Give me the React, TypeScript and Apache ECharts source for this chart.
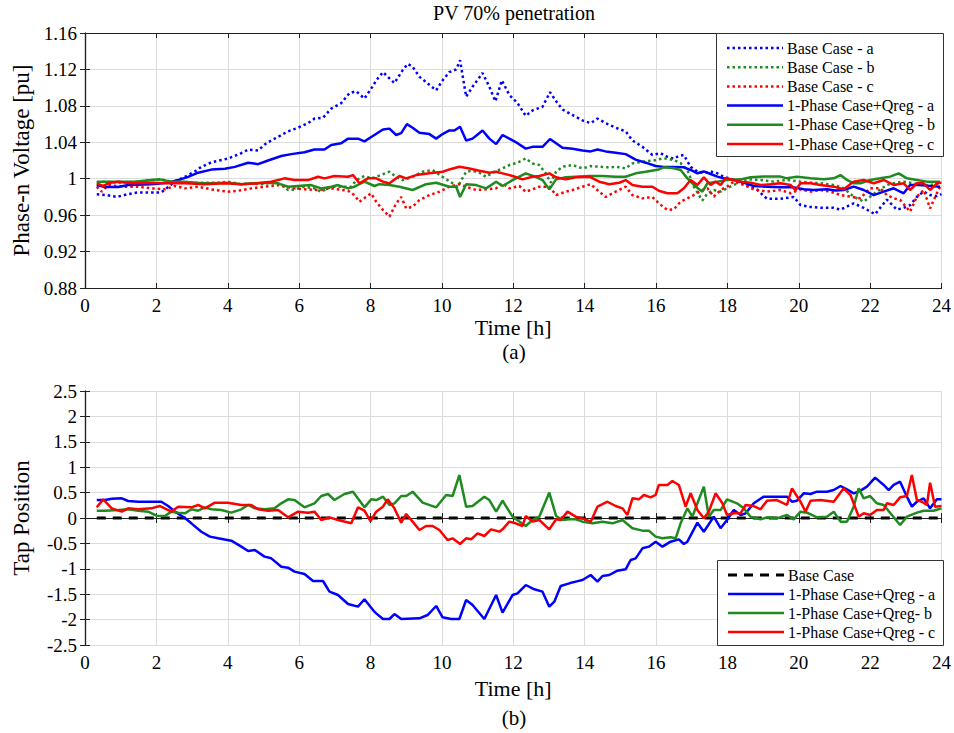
import React, { useEffect, useRef } from "react";
import * as echarts from "echarts";

const FONT = "Liberation Serif, Times New Roman, serif";
const BLUE = "#0000ff";
const GREEN = "#1f8a1f";
const RED = "#ff0000";

// ---------- Top plot: phase-n voltage [pu] vs time [h] ----------
const baseCaseA: number[][] = [[0.33,0.983],[0.6,0.982],[0.89,0.980],[1.2,0.983],[1.49,0.985],[2.14,0.985],[2.33,0.991],[2.52,0.997],[2.8,1.002],[3.08,1.008],[3.26,1.013],[3.54,1.018],[4.0,1.022],[4.38,1.028],[4.57,1.032],[4.85,1.031],[5.08,1.039],[5.41,1.046],[5.69,1.052],[5.97,1.056],[6.25,1.061],[6.43,1.066],[6.67,1.067],[6.9,1.077],[7.18,1.083],[7.41,1.094],[7.6,1.096],[7.83,1.088],[8.07,1.102],[8.16,1.108],[8.35,1.117],[8.67,1.105],[8.9,1.119],[9.04,1.126],[9.18,1.123],[9.37,1.112],[9.84,1.097],[10.02,1.108],[10.21,1.117],[10.4,1.120],[10.51,1.130],[10.68,1.090],[10.86,1.101],[11.14,1.116],[11.33,1.101],[11.5,1.085],[11.68,1.108],[11.89,1.092],[12.12,1.083],[12.35,1.069],[12.54,1.075],[12.82,1.079],[13.03,1.095],[13.24,1.083],[13.38,1.076],[13.66,1.070],[13.94,1.064],[14.17,1.061],[14.36,1.066],[14.59,1.061],[14.87,1.056],[15.15,1.052],[15.34,1.042],[15.62,1.035],[15.9,1.026],[16.13,1.028],[16.32,1.024],[16.5,1.022],[16.64,1.025],[16.78,1.026],[16.97,1.013],[17.16,1.008],[17.34,1.006],[17.53,1.008],[17.72,1.006],[17.9,1.002],[18.18,0.999],[18.55,0.993],[18.83,0.988],[19.11,0.978],[19.49,0.978],[19.86,0.980],[20.05,0.971],[20.33,0.969],[20.61,0.968],[20.98,0.968],[21.17,0.966],[21.54,0.973],[21.82,0.968],[22.14,0.961],[22.28,0.968],[22.47,0.977],[22.75,0.966],[22.94,0.968],[23.12,0.971],[23.31,0.980],[23.5,0.986],[23.68,0.982],[23.87,0.981],[24,0.983]];

const baseCaseB: number[][] = [[0.33,0.9956],[0.56,0.9967],[0.93,0.9956],[1.4,0.9967],[1.86,0.9985],[2.14,0.9993],[2.42,0.9967],[2.8,0.9956],[3.26,0.9956],[3.73,0.9956],[4.0,0.9967],[4.38,0.994],[4.66,0.9949],[4.94,0.994],[5.22,0.9956],[5.5,0.994],[5.69,0.9876],[5.87,0.9883],[6.15,0.9912],[6.43,0.9894],[6.62,0.9857],[6.9,0.9912],[7.18,0.9912],[7.46,0.9912],[7.6,0.9985],[7.83,1.003],[8.02,1.0004],[8.16,1.002],[8.53,1.0077],[8.72,1.002],[8.9,0.9985],[9.18,1.002],[9.46,1.0077],[9.74,1.0095],[10.02,1.002],[10.3,0.995],[10.44,0.991],[10.68,1.0077],[10.86,1.0088],[11.05,1.0066],[11.24,1.002],[11.47,1.0077],[11.7,1.0113],[11.89,1.015],[12.12,1.0176],[12.35,1.0223],[12.54,1.0168],[12.73,1.015],[12.91,1.0059],[13.05,0.9956],[13.2,1.0077],[13.38,1.0132],[13.66,1.015],[13.94,1.0113],[14.17,1.0139],[14.41,1.0132],[14.69,1.0124],[14.87,1.0132],[15.15,1.0113],[15.34,1.0168],[15.62,1.0187],[15.9,1.0198],[16.22,1.0224],[16.5,1.0206],[16.69,1.017],[16.88,1.0096],[17.06,0.9913],[17.3,0.976],[17.44,0.984],[17.62,0.9876],[17.81,0.9858],[17.99,0.9895],[18.18,0.9931],[18.37,0.9968],[18.65,0.9993],[18.93,0.9986],[19.3,0.9968],[19.67,0.9986],[20.05,0.9968],[20.33,0.9957],[20.61,0.995],[20.98,0.9931],[21.26,0.9895],[21.54,0.9803],[21.82,0.9748],[22.0,0.9803],[22.19,0.9858],[22.47,0.9931],[22.66,0.995],[22.94,0.9968],[23.22,0.995],[23.4,0.9931],[23.68,0.9931],[23.96,0.995]];

const baseCaseC: number[][] = [[0.33,0.9912],[0.47,0.9857],[0.65,0.993],[1.12,0.9912],[1.49,0.9912],[1.86,0.9894],[2.24,0.9883],[2.52,0.992],[2.8,0.9894],[3.17,0.9912],[3.54,0.9883],[4.0,0.9857],[4.29,0.9868],[4.66,0.9894],[5.03,0.9912],[5.41,0.993],[5.59,0.9912],[5.87,0.9894],[6.15,0.9883],[6.53,0.9876],[6.9,0.9894],[7.37,0.9868],[7.55,0.982],[7.69,0.9747],[7.88,0.9802],[8.02,0.9839],[8.16,0.9747],[8.35,0.9656],[8.53,0.9583],[8.72,0.9729],[8.86,0.980],[9.0,0.9674],[9.18,0.9693],[9.37,0.9766],[9.65,0.982],[9.93,0.9857],[10.21,0.9912],[10.49,0.994],[10.68,0.9912],[10.96,0.9876],[11.24,0.9883],[11.52,0.9894],[11.7,0.9949],[11.89,0.9894],[12.17,0.992],[12.35,0.9857],[12.54,0.9883],[12.73,0.9912],[13.01,0.9912],[13.2,0.982],[13.47,0.9857],[13.66,0.9876],[13.94,0.9912],[14.17,0.994],[14.41,0.9857],[14.59,0.980],[14.87,0.9857],[15.15,0.9912],[15.34,0.982],[15.62,0.9784],[15.9,0.980],[16.08,0.9729],[16.2,0.9693],[16.32,0.9657],[16.5,0.9664],[16.69,0.9748],[16.88,0.9785],[17.06,0.9821],[17.3,0.9876],[17.44,0.9895],[17.62,0.9803],[17.81,0.9876],[17.99,0.9913],[18.18,0.9968],[18.46,0.9931],[18.74,0.9884],[19.11,0.9858],[19.49,0.9876],[19.77,0.984],[20.05,0.9884],[20.33,0.9858],[20.61,0.9876],[20.89,0.9858],[21.17,0.9821],[21.45,0.9803],[21.73,0.9785],[22.0,0.9895],[22.28,0.9895],[22.47,0.9821],[22.66,0.9785],[22.84,0.9767],[23.12,0.9638],[23.31,0.9803],[23.5,0.9876],[23.68,0.9674],[23.87,0.984],[23.96,0.9913]];

const qregA: number[][] = [[0.33,0.993],[0.56,0.991],[0.93,0.991],[1.21,0.993],[1.86,0.994],[2.33,0.9955],[2.61,0.9985],[2.89,1.002],[3.17,1.0066],[3.54,1.010],[3.92,1.011],[4.2,1.013],[4.57,1.0176],[4.85,1.016],[5.13,1.020],[5.5,1.025],[5.78,1.027],[6.15,1.029],[6.43,1.032],[6.71,1.032],[6.9,1.037],[7.18,1.039],[7.37,1.044],[7.65,1.044],[7.83,1.041],[8.11,1.048],[8.35,1.054],[8.53,1.055],[8.72,1.048],[8.86,1.050],[9.02,1.060],[9.18,1.056],[9.37,1.0505],[9.65,1.049],[9.84,1.044],[10.02,1.049],[10.21,1.053],[10.35,1.053],[10.51,1.057],[10.68,1.042],[10.86,1.044],[11.14,1.053],[11.33,1.044],[11.52,1.038],[11.7,1.048],[11.89,1.044],[12.12,1.039],[12.35,1.033],[12.54,1.035],[12.82,1.035],[13.03,1.0436],[13.2,1.039],[13.38,1.034],[13.66,1.033],[13.94,1.031],[14.17,1.030],[14.36,1.032],[14.59,1.030],[14.87,1.0285],[15.15,1.027],[15.43,1.021],[15.71,1.0176],[15.99,1.014],[16.22,1.013],[16.5,1.013],[16.78,1.0125],[16.97,1.0096],[17.16,1.006],[17.34,1.008],[17.53,1.0052],[17.72,1.0023],[17.9,1.0004],[18.18,0.9986],[18.37,0.9968],[18.74,0.992],[19.11,0.9913],[19.49,0.9905],[19.86,0.9905],[20.14,0.9884],[20.42,0.9876],[20.79,0.9884],[21.03,0.987],[21.26,0.9876],[21.54,0.9913],[21.82,0.9876],[22.1,0.982],[22.38,0.9858],[22.66,0.9895],[22.94,0.984],[23.12,0.9931],[23.4,0.9931],[23.68,0.992],[23.96,0.9913]];

const qregB: number[][] = [[0.33,0.9967],[0.75,0.9967],[1.4,0.9967],[1.86,0.9985],[2.1,0.9993],[2.42,0.9967],[2.8,0.9967],[3.26,0.9949],[3.54,0.9949],[4.0,0.9956],[4.38,0.994],[4.66,0.9949],[5.03,0.9956],[5.41,0.9949],[5.69,0.9912],[5.97,0.992],[6.34,0.993],[6.62,0.9894],[6.9,0.9912],[7.09,0.993],[7.37,0.9894],[7.55,0.9912],[7.83,0.9967],[8.11,0.992],[8.25,0.994],[8.53,0.993],[8.81,0.9912],[9.18,0.9876],[9.56,0.994],[9.84,0.9956],[10.21,0.9912],[10.4,0.9912],[10.51,0.980],[10.68,0.994],[10.96,0.993],[11.24,0.9894],[11.52,0.9967],[11.7,0.992],[11.98,0.9985],[12.35,1.0059],[12.63,1.002],[12.82,0.9985],[13.01,0.9883],[13.2,0.9993],[13.47,1.0015],[13.75,1.0022],[14.13,1.003],[14.5,1.003],[14.87,1.0022],[15.15,1.0022],[15.43,1.0059],[15.71,1.0077],[16.08,1.0102],[16.22,1.0125],[16.5,1.0114],[16.69,1.0096],[16.88,1.0004],[17.06,0.9931],[17.3,0.9858],[17.44,0.995],[17.72,0.9968],[17.99,0.9986],[18.37,0.9993],[18.65,1.0015],[19.02,1.0023],[19.49,1.0023],[19.67,1.0004],[19.95,1.0023],[20.33,1.0004],[20.7,0.9993],[20.98,1.0004],[21.17,1.004],[21.35,0.9986],[21.54,0.995],[21.73,0.995],[22.0,0.9986],[22.28,1.0004],[22.56,1.0023],[22.8,1.0059],[23.03,1.0004],[23.31,0.9986],[23.59,0.9968],[23.96,0.9968]];

const qregC: number[][] = [[0.33,0.9949],[0.51,0.992],[0.7,0.9956],[0.93,0.9967],[1.31,0.9949],[1.86,0.9956],[2.33,0.9949],[2.8,0.9949],[3.36,0.994],[3.92,0.9949],[4.38,0.994],[4.85,0.9949],[5.22,0.9967],[5.59,1.0004],[5.87,0.9985],[6.25,0.9985],[6.53,1.0022],[6.71,1.0004],[6.99,1.003],[7.37,1.0022],[7.51,1.004],[7.69,0.9949],[7.93,1.0004],[8.16,1.0004],[8.35,0.9967],[8.53,0.9949],[8.81,1.003],[9.0,1.0004],[9.28,1.004],[9.65,1.0059],[10.02,1.0077],[10.21,1.0102],[10.49,1.0132],[10.77,1.0113],[11.05,1.0088],[11.33,1.0066],[11.52,1.0077],[11.7,1.0059],[11.98,1.003],[12.26,0.9993],[12.54,1.0022],[12.73,1.003],[13.01,1.0059],[13.2,1.0015],[13.47,0.9993],[13.75,1.0015],[14.13,1.0022],[14.41,0.9967],[14.69,0.994],[14.97,0.9956],[15.15,0.9985],[15.34,0.993],[15.62,0.9912],[15.9,0.9912],[16.08,0.9868],[16.32,0.984],[16.6,0.984],[16.78,0.9895],[16.97,0.9986],[17.16,0.9931],[17.34,1.0015],[17.53,0.9931],[17.67,0.9968],[17.81,0.9931],[17.95,1.0004],[18.18,0.9986],[18.37,0.9968],[18.65,0.9957],[18.93,0.9931],[19.21,0.9938],[19.49,0.995],[19.77,0.9931],[19.91,0.9876],[20.05,0.995],[20.33,0.995],[20.61,0.9931],[20.98,0.9913],[21.26,0.9884],[21.54,0.9968],[21.82,0.9986],[22.1,0.995],[22.38,0.9986],[22.66,0.9931],[22.94,0.995],[23.12,0.9876],[23.31,0.995],[23.5,0.995],[23.68,0.9876],[23.87,0.995],[24.0,0.9957]];

// ---------- Bottom plot: tap position vs time [h] ----------
const tapBase: number[][] = [[0.33,0],[24,0]];

const tapA: number[][] = [[0.33,0.354],[0.56,0.354],[0.75,0.38],[1.03,0.387],[1.21,0.335],[1.49,0.32],[1.77,0.32],[2.14,0.32],[2.33,0.236],[2.52,0.125],[2.8,0],[2.98,-0.105],[3.26,-0.27],[3.5,-0.367],[3.73,-0.4],[4.1,-0.446],[4.38,-0.564],[4.57,-0.65],[4.76,-0.63],[5.03,-0.76],[5.22,-0.794],[5.5,-0.958],[5.69,-0.978],[5.87,-1.056],[6.15,-1.102],[6.39,-1.24],[6.67,-1.24],[6.85,-1.45],[7.09,-1.516],[7.37,-1.693],[7.65,-1.745],[7.83,-1.6],[8.11,-1.844],[8.16,-1.877],[8.35,-1.988],[8.53,-1.988],[8.67,-1.89],[8.86,-1.988],[9.37,-1.975],[9.6,-1.91],[9.84,-1.732],[10.02,-1.955],[10.26,-1.988],[10.49,-1.988],[10.68,-1.614],[10.86,-1.713],[11.19,-1.988],[11.52,-1.516],[11.7,-1.864],[11.98,-1.516],[12.12,-1.483],[12.35,-1.319],[12.59,-1.404],[12.82,-1.45],[13.01,-1.745],[13.15,-1.647],[13.33,-1.339],[13.57,-1.286],[13.75,-1.253],[13.94,-1.22],[14.17,-1.122],[14.36,-1.253],[14.5,-1.142],[14.69,-1.122],[14.92,-1.037],[15.15,-1.01],[15.29,-0.827],[15.43,-0.794],[15.62,-0.597],[15.8,-0.564],[15.99,-0.466],[16.18,-0.564],[16.41,-0.466],[16.64,-0.42],[16.78,-0.512],[16.88,-0.466],[17.16,-0.092],[17.34,-0.27],[17.62,0.026],[17.81,-0.2],[17.99,-0.04],[18.18,0.157],[18.37,0.059],[18.51,0.092],[18.74,0.289],[19.02,0.42],[19.3,0.42],[19.67,0.42],[19.81,0.32],[19.95,0.341],[20.14,0.486],[20.33,0.472],[20.51,0.518],[20.79,0.518],[20.98,0.551],[21.17,0.63],[21.35,0.564],[21.54,0.486],[21.73,0.538],[21.91,0.617],[22.14,0.794],[22.38,0.65],[22.52,0.551],[22.66,0.65],[22.84,0.715],[23.03,0.42],[23.17,0.223],[23.31,0.32],[23.5,0.387],[23.68,0.19],[23.87,0.367],[24,0.367]];

const tapB: number[][] = [[0.33,0.144],[0.56,0.144],[0.93,0.157],[1.21,0.171],[1.49,0.144],[1.77,0.125],[2.0,0.046],[2.24,0.039],[2.42,0.125],[2.61,0.105],[2.8,0.092],[2.98,0.171],[3.17,0.144],[3.36,0.21],[3.54,0.171],[3.82,0.157],[4.1,0.105],[4.38,0.171],[4.57,0.256],[4.76,0.19],[5.03,0.171],[5.31,0.19],[5.5,0.289],[5.69,0.367],[5.87,0.354],[6.15,0.21],[6.43,0.289],[6.62,0.433],[6.81,0.472],[6.99,0.354],[7.27,0.472],[7.51,0.518],[7.83,0.21],[8.02,0.367],[8.16,0.354],[8.35,0.42],[8.53,0.256],[8.67,0.289],[8.86,0.433],[9.0,0.433],[9.18,0.518],[9.46,0.302],[9.84,0.21],[10.12,0.453],[10.3,0.433],[10.49,0.846],[10.68,0.223],[10.86,0.236],[11.19,0.42],[11.33,0.354],[11.52,0.125],[11.7,0.341],[11.98,0.026],[12.35,-0.157],[12.54,-0.039],[12.73,0.026],[13.01,0.5],[13.2,0.039],[13.38,-0.039],[13.57,-0.026],[13.75,-0.026],[13.94,-0.072],[14.22,-0.105],[14.5,-0.072],[14.78,-0.105],[15.06,-0.039],[15.34,-0.203],[15.62,-0.249],[15.8,-0.249],[15.99,-0.367],[16.18,-0.4],[16.41,-0.38],[16.55,-0.4],[16.69,-0.105],[16.88,0.19],[17.02,0.026],[17.16,0.289],[17.34,0.617],[17.48,0.026],[17.62,0.157],[17.81,0.157],[17.99,0.367],[18.27,0.289],[18.46,0.19],[18.65,0.026],[18.93,-0.026],[19.11,0.013],[19.39,-0.007],[19.67,0.059],[19.86,-0.026],[20.05,0.125],[20.23,0.105],[20.51,0.013],[20.79,0.026],[20.98,0.125],[21.17,-0.072],[21.35,-0.072],[21.54,0.223],[21.68,0.584],[21.82,0.387],[22.0,0.433],[22.19,0.289],[22.38,0.256],[22.61,0.059],[22.84,-0.138],[23.03,0.026],[23.31,0.105],[23.5,0.144],[23.78,0.144],[24.0,0.19]];

const tapC: number[][] = [[0.33,0.21],[0.51,0.367],[0.75,0.19],[1.03,0.125],[1.21,0.19],[1.49,0.171],[1.86,0.19],[2.1,0.236],[2.42,0.125],[2.61,0.223],[2.98,0.21],[3.17,0.256],[3.36,0.19],[3.64,0.302],[4.0,0.302],[4.38,0.256],[4.66,0.256],[4.85,0.171],[5.13,0.144],[5.41,0.157],[5.69,0.013],[5.97,0.125],[6.25,0.105],[6.43,0.125],[6.62,-0.039],[6.85,0.013],[7.09,-0.039],[7.46,-0.105],[7.65,0.21],[7.83,0.144],[8.0,-0.06],[8.16,0.125],[8.35,0.223],[8.48,0.367],[8.67,0.19],[8.86,-0.092],[9.0,0.079],[9.18,-0.072],[9.37,-0.236],[9.56,-0.157],[9.74,-0.157],[9.93,-0.236],[10.16,-0.433],[10.3,-0.4],[10.51,-0.512],[10.68,-0.4],[10.82,-0.42],[11.0,-0.302],[11.19,-0.354],[11.38,-0.223],[11.61,-0.269],[11.7,-0.223],[11.89,-0.072],[12.07,-0.105],[12.26,-0.157],[12.35,0.039],[12.54,-0.072],[12.73,-0.039],[13.01,-0.223],[13.2,-0.026],[13.33,-0.039],[13.52,0.125],[13.75,0.026],[13.94,-0.007],[14.17,-0.072],[14.36,0.223],[14.64,0.32],[14.87,0.236],[15.06,0.19],[15.2,0.059],[15.34,0.387],[15.52,0.367],[15.66,0.453],[15.85,0.407],[15.99,0.453],[16.08,0.65],[16.32,0.65],[16.46,0.728],[16.64,0.65],[16.83,0.223],[16.97,0.486],[17.16,0.157],[17.34,-0.007],[17.48,0.125],[17.67,0.486],[17.86,0.289],[17.99,0.059],[18.18,0.092],[18.37,0.092],[18.51,0.256],[18.74,0.236],[18.93,0.171],[19.11,0.341],[19.39,0.354],[19.67,0.256],[19.81,0.584],[20.05,0.32],[20.19,0.125],[20.33,0.341],[20.61,0.354],[20.98,0.32],[21.26,0.584],[21.45,0.453],[21.68,0.026],[21.82,0.092],[22.0,0.059],[22.19,0.157],[22.38,0.157],[22.47,0.289],[22.66,0.256],[22.84,0.407],[23.03,0.433],[23.17,0.846],[23.31,0.354],[23.45,0.32],[23.59,0.256],[23.68,0.696],[23.82,0.223],[24.0,0.236]];

const topNames = ["Base Case - a", "Base Case - b", "Base Case - c", "1-Phase Case+Qreg - a", "1-Phase Case+Qreg - b", "1-Phase Case+Qreg - c"];
const bottomNames = ["Base Case", "1-Phase Case+Qreg - a", "1-Phase Case+Qreg- b", "1-Phase Case+Qreg - c"];

const timeRange = { min: 0, max: 24, interval: 2 };
const voltRange = { min: 0.88, max: 1.16, interval: 0.04 };
const tapRange = { min: -2.5, max: 2.5, interval: 0.5 };

const DOT = [2.5, 3];
const DASH = [9, 7];
const topStyles = [
  { color: BLUE, dash: DOT, width: 2.5 }, { color: GREEN, dash: DOT, width: 2.5 }, { color: RED, dash: DOT, width: 2.5 },
  { color: BLUE, dash: null, width: 2.5 }, { color: GREEN, dash: null, width: 2.5 }, { color: RED, dash: null, width: 2.5 },
];
const bottomStyles = [
  { color: "#000", dash: DASH, width: 3 }, { color: BLUE, dash: null, width: 2.5 }, { color: GREEN, dash: null, width: 2.5 }, { color: RED, dash: null, width: 2.5 },
];

function legendItems(names: string[], styles: any[], box: { x: number; y: number; w: number; h: number }, row0: number, step: number) {
  const items: any[] = [
    { type: "rect", z: 100, shape: { x: box.x + 0.5, y: box.y + 0.5, width: box.w, height: box.h }, style: { fill: "#ffffff", stroke: "#333", lineWidth: 1 } },
  ];
  names.forEach((n, i) => {
    const y = row0 + i * step;
    items.push({
      type: "line", z: 101, shape: { x1: box.x + 11, y1: y, x2: box.x + 67, y2: y },
      style: { stroke: styles[i].color, lineWidth: styles[i].width, lineDash: styles[i].dash || undefined },
    });
    items.push({
      type: "text", z: 101, x: box.x + 71, y,
      style: { text: n, fill: "#000", font: `16px ${FONT}`, textVerticalAlign: "middle" },
    });
  });
  return items;
}

export default function App() {
  const ref = useRef<HTMLDivElement>(null);

  useEffect(() => {
    document.body.style.margin = "0";
    if (!ref.current) return;
    const chart = echarts.init(ref.current, undefined, { renderer: "svg" });

    const tick = { show: true, inside: true, length: 5, lineStyle: { color: "#222", width: 1 } };
    const axLine = { show: true, lineStyle: { color: "#222", width: 1.2 } };
    const split = { show: true, lineStyle: { color: "#dcdcdc", width: 1 } };
    const lab = { color: "#000", fontFamily: FONT, fontSize: 19 };

    const xMain = (gridIndex: number, gap: number) => ({
      type: "value", gridIndex, position: "bottom", ...timeRange,
      name: "Time [h]", nameLocation: "middle", nameGap: gap,
      nameTextStyle: { color: "#000", fontFamily: FONT, fontSize: 22 },
      axisLine: axLine, axisTick: tick, splitLine: split,
      axisLabel: { ...lab, margin: 8 },
    });
    const xTop = (gridIndex: number) => ({
      type: "value", gridIndex, position: "top", ...timeRange,
      axisLine: axLine, axisTick: tick, splitLine: { show: false }, axisLabel: { show: false },
    });
    const yMain = (gridIndex: number, range: any, name: string, dec: number) => ({
      type: "value", gridIndex, position: "left", ...range,
      name, nameLocation: "middle", nameGap: 52,
      nameTextStyle: { color: "#000", fontFamily: FONT, fontSize: 23 },
      axisLine: axLine, axisTick: tick, splitLine: split,
      axisLabel: { ...lab, margin: 8, formatter: (v: number) => String(Number(v.toFixed(dec))) },
    });
    const yRight = (gridIndex: number, range: any) => ({
      type: "value", gridIndex, position: "right", ...range,
      axisLine: axLine, axisTick: tick, splitLine: { show: false }, axisLabel: { show: false },
    });

    const line = (name: string, data: number[][], st: any, xi: number, yi: number) => ({
      type: "line", name, data, xAxisIndex: xi, yAxisIndex: yi,
      showSymbol: false, symbol: "none", clip: true,
      lineStyle: { color: st.color, width: st.width, type: st.dash || "solid" },
      itemStyle: { color: st.color },
      z: 3,
    });

    chart.setOption({
      animation: false,
      backgroundColor: "#fff",
      textStyle: { fontFamily: FONT },
      grid: [
        { left: 85, top: 33, width: 858, height: 255 },
        { left: 85, top: 391, width: 858, height: 254 },
      ],
      xAxis: [xMain(0, 28), xTop(0), xMain(1, 32), xTop(1)],
      yAxis: [
        yMain(0, voltRange, "Phase-n Voltage [pu]", 2), yRight(0, voltRange),
        yMain(1, tapRange, "Tap Position", 1), yRight(1, tapRange),
      ],
      graphic: [
        { type: "text", x: 514, y: 13, style: { text: "PV 70% penetration", fill: "#000", font: `20px ${FONT}`, textAlign: "center", textVerticalAlign: "middle" } },
        { type: "text", x: 514, y: 352, style: { text: "(a)", fill: "#000", font: `21px ${FONT}`, textAlign: "center", textVerticalAlign: "middle" } },
        { type: "text", x: 514, y: 718, style: { text: "(b)", fill: "#000", font: `21px ${FONT}`, textAlign: "center", textVerticalAlign: "middle" } },
        ...legendItems(topNames, topStyles, { x: 716, y: 33, w: 227, h: 123 }, 48, 19.2),
        ...legendItems(bottomNames, bottomStyles, { x: 717, y: 560, w: 226, h: 85 }, 575, 19),
      ],
      series: [
        line(topNames[0], baseCaseA, topStyles[0], 0, 0),
        line(topNames[1], baseCaseB, topStyles[1], 0, 0),
        line(topNames[2], baseCaseC, topStyles[2], 0, 0),
        line(topNames[3], qregA, topStyles[3], 0, 0),
        line(topNames[4], qregB, topStyles[4], 0, 0),
        line(topNames[5], qregC, topStyles[5], 0, 0),
        line(bottomNames[0], tapBase, bottomStyles[0], 2, 2),
        line(bottomNames[1], tapA, bottomStyles[1], 2, 2),
        line(bottomNames[2], tapB, bottomStyles[2], 2, 2),
        line(bottomNames[3], tapC, bottomStyles[3], 2, 2),
      ],
    });

    return () => chart.dispose();
  }, []);

  return <div ref={ref} style={{ width: 954, height: 733 }} />;
}
